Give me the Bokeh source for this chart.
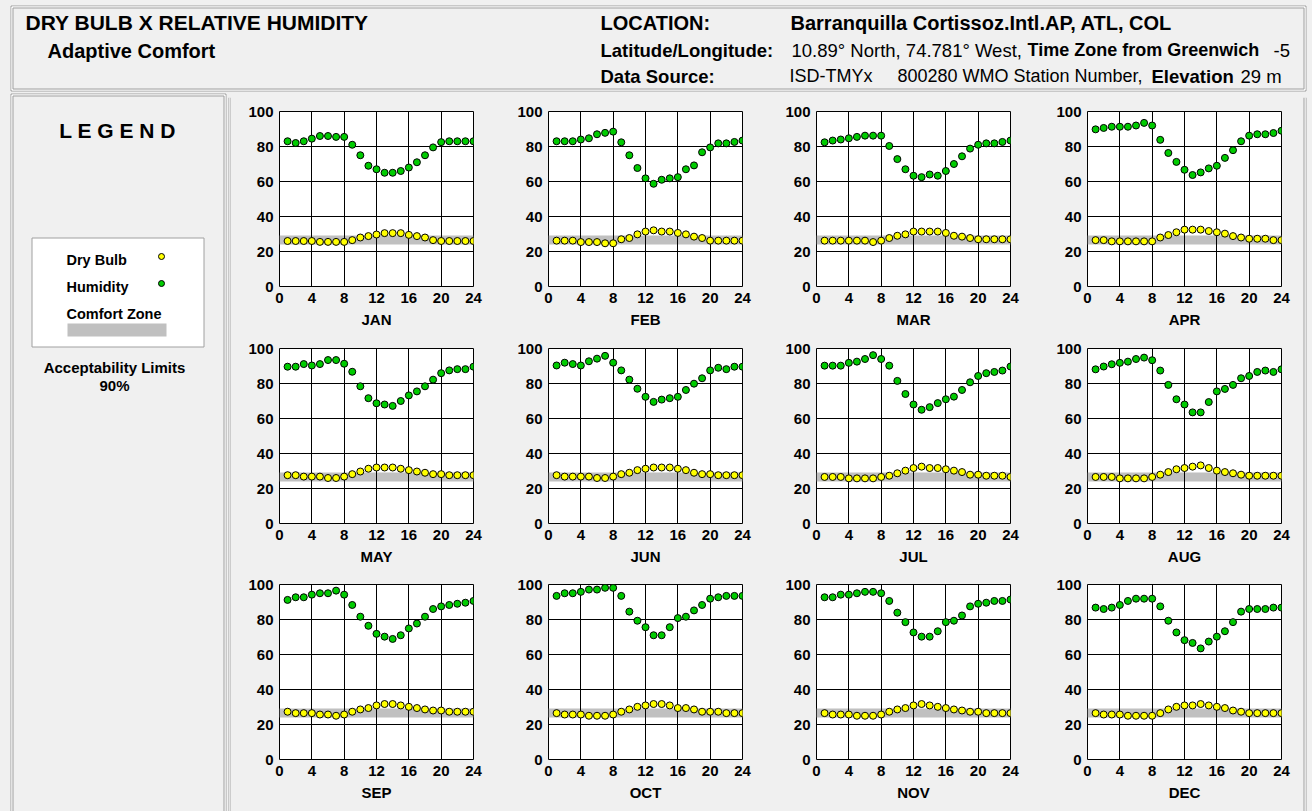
from bokeh.plotting import figure
from bokeh.layouts import column, row
from bokeh.models import Range1d, FixedTicker
from bokeh.core.properties import value
from bokeh.embed import file_html
from bokeh.resources import INLINE

# ---------------- data ----------------
MONTHS = ["JAN", "FEB", "MAR", "APR", "MAY", "JUN", "JUL", "AUG", "SEP", "OCT", "NOV", "DEC"]
HOURS = list(range(1, 25))
X_TICKS = [0, 4, 8, 12, 16, 20, 24]
Y_TICKS = [0, 20, 40, 60, 80, 100]

RH_JAN = [83, 82, 83, 84.5, 86, 86, 85.5, 85.5, 81, 75, 69, 67, 65, 65, 66, 68, 71, 75, 79.5, 82.5, 83, 83, 83, 83]
RH_FEB = [83, 83, 83, 84, 84.7, 87, 87.8, 88.5, 82.4, 75, 67.7, 61.8, 58.7, 61, 61.8, 62.5, 67, 69.2, 76.7, 79.5, 81.8, 81.8, 82.6, 83.4]
RH_MAR = [82.4, 83.4, 84, 84.7, 85.5, 86.2, 86.2, 86.2, 80.3, 72.8, 67, 63.3, 62.5, 64, 63.3, 66, 70, 74.4, 78.8, 81, 81.8, 81.8, 82.6, 83.4]
RH_APR = [89.8, 90.6, 91.3, 91.3, 91.3, 92, 93.5, 92, 83.8, 76.3, 71.2, 66.7, 63.7, 65.2, 67.5, 69, 73.5, 77.9, 83, 86.2, 87, 87, 87.7, 89]
RH_MAY = [89.6, 89.6, 91.1, 90.3, 91.1, 93.4, 93.4, 91.3, 86.7, 78.4, 71.6, 68.7, 68, 67.2, 70, 73.2, 75.5, 78.4, 82.2, 85.9, 87.5, 88.2, 88.2, 89.6]
RH_JUN = [90.3, 91.9, 91.1, 90.3, 92.7, 94.2, 95.8, 91.9, 87.5, 82.2, 77, 72.4, 69.5, 70.8, 71.6, 72.4, 76.3, 79.9, 83, 87.5, 89, 88.2, 89.6, 89.6]
RH_JUL = [90.2, 90.2, 90.2, 91.8, 92.5, 94, 96.2, 94, 90.2, 81.5, 74, 68, 65, 66.5, 68.8, 71, 72.5, 76.3, 80.7, 84.3, 85.9, 86.6, 87.4, 89.7]
RH_AUG = [88.1, 89.7, 91, 91.8, 92.5, 94, 94.8, 93.3, 87.4, 79.2, 71, 68, 63.5, 63.5, 69.4, 75.5, 76.9, 79.2, 83, 84.3, 86.6, 87.4, 86.6, 88.1]
RH_SEP = [91.2, 92.7, 92.7, 94.2, 95, 95, 96.5, 94.2, 88.3, 81.6, 76.4, 71.8, 70.2, 68.9, 71, 74.9, 77.7, 81.6, 86, 87.5, 88.3, 89, 89.6, 90.6]
RH_OCT = [93.5, 95, 95, 95.8, 97.1, 97.1, 98.1, 98.1, 93.5, 84.5, 79.3, 75.6, 71, 71, 75.6, 80.8, 81.6, 85.2, 88.3, 91.9, 92.7, 93.5, 93.5, 93.5]
RH_NOV = [92.7, 92.7, 94.2, 94.2, 95, 95.8, 95.8, 95, 90.6, 83.9, 78.5, 72.6, 70.2, 70.2, 73.3, 78.5, 79.3, 82.3, 87.5, 89, 89.6, 90.6, 90.6, 91.4]
RH_DEC = [86.8, 86, 86.8, 88.3, 90.6, 91.9, 91.9, 91.9, 87.5, 79.3, 72.6, 68.2, 66.6, 63.5, 67.4, 70.2, 73.3, 78.5, 84.5, 86, 86, 86, 86.8, 86.8]

DB_JAN = [26, 26, 26, 26, 25.5, 25.5, 25.5, 25.5, 26.5, 28, 28.8, 29.7, 30.5, 30.5, 30.5, 29.5, 28.8, 28, 26.5, 26, 26, 26, 26, 26]
DB_FEB = [26.2, 26.2, 26.2, 25.4, 25.4, 25.4, 24.7, 24.7, 27, 27.7, 29.8, 31.4, 32.1, 31.4, 31.4, 30.6, 29.8, 28.5, 27.7, 26.2, 26.2, 26.2, 26.2, 26.2]
DB_MAR = [26.2, 26.2, 26.2, 26.2, 26.2, 26.2, 25.4, 26.2, 27.7, 29, 29.8, 31.4, 31.4, 31.4, 31.4, 30.6, 29, 28.5, 27.7, 27, 27, 27, 27, 27]
DB_APR = [26.5, 26.5, 25.8, 25.8, 25.8, 25.8, 25.8, 25.8, 28, 29.4, 31, 32.5, 32.5, 32.5, 31.7, 31, 30.2, 28.8, 28, 27.3, 27.3, 27.3, 26.5, 26.5]
DB_MAY = [27.6, 27.6, 26.8, 26.8, 26.8, 26, 26, 26.8, 28.2, 29.7, 31.3, 32, 32, 32, 31.3, 30.5, 29.7, 29, 28.2, 28.2, 27.6, 27.6, 27.6, 27.6]
DB_JUN = [27.6, 26.8, 26.8, 26.8, 26.8, 26, 26, 26.8, 28.2, 29, 30.5, 31.3, 32, 32, 32, 31.3, 30.5, 29, 28.2, 28.2, 27.6, 27.6, 27.6, 27.6]
DB_JUL = [26.6, 26.6, 26.6, 25.8, 25.8, 25.8, 25.8, 26.6, 27.3, 28.7, 30.2, 31.7, 32.5, 31.7, 31.7, 31, 30.2, 29.4, 27.9, 27.9, 27.3, 27.3, 27.3, 26.6]
DB_AUG = [26.6, 26.6, 26.6, 25.8, 25.8, 25.8, 25.8, 26.6, 27.9, 29.4, 31, 31.7, 32.5, 33.2, 31.7, 30.2, 29.4, 28.7, 27.9, 27.3, 27.3, 27.3, 27.3, 27.3]
DB_SEP = [27.3, 26.5, 26.5, 26.5, 25.7, 25.7, 25, 25.7, 27.3, 28.6, 29.4, 30.9, 31.7, 31.7, 30.9, 30.1, 29.4, 28.6, 28, 28, 27.3, 27.3, 27.3, 27.3]
DB_OCT = [26.5, 25.7, 25.7, 25.7, 25, 25, 25, 25.7, 27.3, 28.6, 30.1, 30.9, 31.7, 31.7, 30.9, 29.4, 29.4, 28.6, 27.3, 27.3, 27.3, 26.5, 26.5, 26.5]
DB_NOV = [26.5, 25.7, 25.7, 25.7, 25, 25, 25, 25.7, 27.3, 28.6, 29.4, 30.9, 31.7, 30.9, 30.1, 29.4, 28.6, 28, 27.3, 27.3, 26.5, 26.5, 26.5, 26.5]
DB_DEC = [26.5, 25.7, 25.7, 25.7, 25, 25, 25, 25, 26.5, 28.6, 30.1, 30.9, 30.9, 31.7, 30.9, 30.1, 29.4, 28, 27.3, 26.5, 26.5, 26.5, 26.5, 26.5]

COMFORT_LO = [24.0] * 12
COMFORT_HI = [29.1] * 12

RH_ALL = [RH_JAN, RH_FEB, RH_MAR, RH_APR, RH_MAY, RH_JUN, RH_JUL, RH_AUG, RH_SEP, RH_OCT, RH_NOV, RH_DEC]
DB_ALL = [DB_JAN, DB_FEB, DB_MAR, DB_APR, DB_MAY, DB_JUN, DB_JUL, DB_AUG, DB_SEP, DB_OCT, DB_NOV, DB_DEC]

# ---------------- style ----------------
FONT_NAME = "Liberation Sans"
FONT = value(FONT_NAME)
BG = "#F0F0F0"
GRAY = "#A0A0A0"
YELLOW = "#FFFF00"
GREEN = "#00CC00"
BAND = "#C0C0C0"
BOX_STYLE = {"background-color": BG}


def deco_fig(w, h):
    p = figure(width=w, height=h, x_range=Range1d(0, w), y_range=Range1d(h, 0),
               x_axis_type=None, y_axis_type=None, output_backend="svg",
               toolbar_location=None, min_border=0, outline_line_color=None,
               background_fill_color=BG, border_fill_color=BG)
    p.xgrid.visible = False
    p.ygrid.visible = False
    return p


def bevel_rect(p, x0, y0, x1, y1):
    # double-line 3D border: gray / white / gray
    for k, c in ((0, GRAY), (1, "#FFFFFF"), (2, GRAY)):
        p.quad(left=[x0 + k + 0.5], right=[x1 - k - 0.5], top=[y0 + k + 0.5], bottom=[y1 - k - 0.5],
               fill_color=None, line_color=c, line_width=1)


def txt(p, x, y, s, size, bold=True, align="left"):
    p.text(x=[x], y=[y], text=[s], text_font=FONT, text_font_size=size,
           text_font_style="bold" if bold else "normal", text_align=align,
           text_baseline="middle", text_color="#000000")


# ---------------- header ----------------
HW, HH = 1312, 92
header = deco_fig(HW, HH)
bevel_rect(header, 10, 5, 1306, 91)
txt(header, 25, 22, "DRY BULB X RELATIVE HUMIDITY", "21px")
txt(header, 47, 50, "Adaptive Comfort", "20px")
txt(header, 600, 22, "LOCATION:", "20px")
txt(header, 790, 22, "Barranquilla Cortissoz.Intl.AP, ATL, COL", "20px")
txt(header, 600, 49.5, "Latitude/Longitude:", "18.5px")
txt(header, 791, 49.5, "10.89° North, 74.781° West,", "18.5px", bold=False)
txt(header, 1027, 49.5, "Time Zone from Greenwich", "18px")
txt(header, 1273, 49.5, "-5", "18.5px", bold=False)
txt(header, 600, 75.5, "Data Source:", "18.5px")
txt(header, 789, 75.5, "ISD-TMYx", "18px", bold=False)
txt(header, 897, 75.5, "800280 WMO Station Number,", "18px", bold=False)
txt(header, 1151, 75.5, "Elevation", "18.5px")
txt(header, 1240, 75.5, "29 m", "18.5px", bold=False)

# ---------------- legend panel ----------------
LW, LH = 227, 719
legend = deco_fig(LW, LH)
bevel_rect(legend, 10, 1, 226, LH + 20)
txt(legend, 117, 38, "L E G E N D", "21px", align="center")
legend.quad(left=[31.5], right=[203.5], top=[145.5], bottom=[254.5], fill_color="#FFFFFF",
            line_color=GRAY, line_width=1)
txt(legend, 66, 167, "Dry Bulb", "14.5px")
txt(legend, 66, 194, "Humidity", "14.5px")
txt(legend, 66, 221, "Comfort Zone", "14.5px")
legend.scatter(x=[161], y=[164], size=6, fill_color=YELLOW, line_color="black", line_width=1)
legend.scatter(x=[161], y=[191], size=6, fill_color=GREEN, line_color="black", line_width=1)
legend.quad(left=[67], right=[166], top=[231], bottom=[244], fill_color=BAND, line_color=None)
txt(legend, 114, 275, "Acceptability Limits", "15px", align="center")
txt(legend, 114, 293, "90%", "15px", align="center")

# ---------------- main area border strips ----------------
MW = 1085
top_strip = deco_fig(MW, 5)
for k, c in ((0, GRAY), (1, "#FFFFFF"), (2, GRAY)):
    top_strip.quad(left=[1 + k], right=[1079 - k], top=[1 + k], bottom=[2 + k], fill_color=c, line_color=None)
    top_strip.quad(left=[1 + k], right=[2 + k], top=[1 + k], bottom=[5], fill_color=c, line_color=None)
    top_strip.quad(left=[1078 - k], right=[1079 - k], top=[1 + k], bottom=[5], fill_color=c, line_color=None)

PH = 811 - 92 - 5
left_strip = deco_fig(4, PH)
right_strip = deco_fig(12, PH)
for k, c in ((0, GRAY), (1, "#FFFFFF"), (2, GRAY)):
    left_strip.quad(left=[1 + k], right=[2 + k], top=[0], bottom=[PH], fill_color=c, line_color=None)
    right_strip.quad(left=[5 - k], right=[6 - k], top=[0], bottom=[PH], fill_color=c, line_color=None)

# ---------------- month panels ----------------
COL_W = [269, 268, 271, 261]
ROW_H = [237, 236, PH - 237 - 236]
ML, MT, FW, FH = 48, 14, 194, 175


def month_panel(i):
    w = COL_W[i % 4]
    h = ROW_H[i // 4]
    p = figure(width=w, height=h, x_range=Range1d(X_TICKS[0], X_TICKS[-1]),
               y_range=Range1d(Y_TICKS[0], Y_TICKS[-1]), output_backend="svg",
               toolbar_location=None, min_border_left=ML, min_border_right=w - ML - FW,
               min_border_top=MT, min_border_bottom=h - MT - FH,
               background_fill_color="#FFFFFF", border_fill_color=BG,
               outline_line_color="#000000", outline_line_width=1,
               styles=BOX_STYLE)
    p.varea(x=[X_TICKS[0], X_TICKS[-1]], y1=[COMFORT_LO[i]] * 2, y2=[COMFORT_HI[i]] * 2,
            fill_color=BAND, level="image")
    p.scatter(HOURS, RH_ALL[i], size=7, fill_color=GREEN, line_color="#000000", line_width=1)
    p.scatter(HOURS, DB_ALL[i], size=7, fill_color=YELLOW, line_color="#000000", line_width=1)
    p.xaxis.ticker = FixedTicker(ticks=X_TICKS)
    p.yaxis.ticker = FixedTicker(ticks=Y_TICKS)
    p.xgrid.ticker = FixedTicker(ticks=X_TICKS)
    p.ygrid.ticker = FixedTicker(ticks=Y_TICKS)
    for g in (p.xgrid, p.ygrid):
        g.grid_line_color = "#000000"
        g.grid_line_width = 1
        g.grid_line_alpha = 1.0
    for ax in (p.xaxis, p.yaxis):
        ax.major_tick_out = 0
        ax.major_tick_in = 0
        ax.minor_tick_out = 0
        ax.minor_tick_in = 0
        ax.axis_line_color = None
        ax.major_label_text_font = FONT_NAME
        ax.major_label_text_font_size = "15px"
        ax.major_label_text_font_style = "bold"
        ax.major_label_text_color = "#000000"
        ax.major_label_standoff = 6
    p.xaxis.axis_label = MONTHS[i]
    p.xaxis.axis_label_text_font = FONT_NAME
    p.xaxis.axis_label_text_font_size = "15px"
    p.xaxis.axis_label_text_font_style = "bold"
    p.xaxis.axis_label_text_color = "#000000"
    p.xaxis.axis_label_standoff = 5
    return p


panels = [month_panel(i) for i in range(12)]
grid = column(*[row(*panels[r * 4:(r + 1) * 4], styles=BOX_STYLE) for r in range(3)],
              styles=BOX_STYLE)

main = column(top_strip, row(left_strip, grid, right_strip, styles=BOX_STYLE), styles=BOX_STYLE)
page = column(header, row(legend, main, styles=BOX_STYLE), styles=BOX_STYLE)

open("out.html", "w").write(file_html(page, INLINE))
